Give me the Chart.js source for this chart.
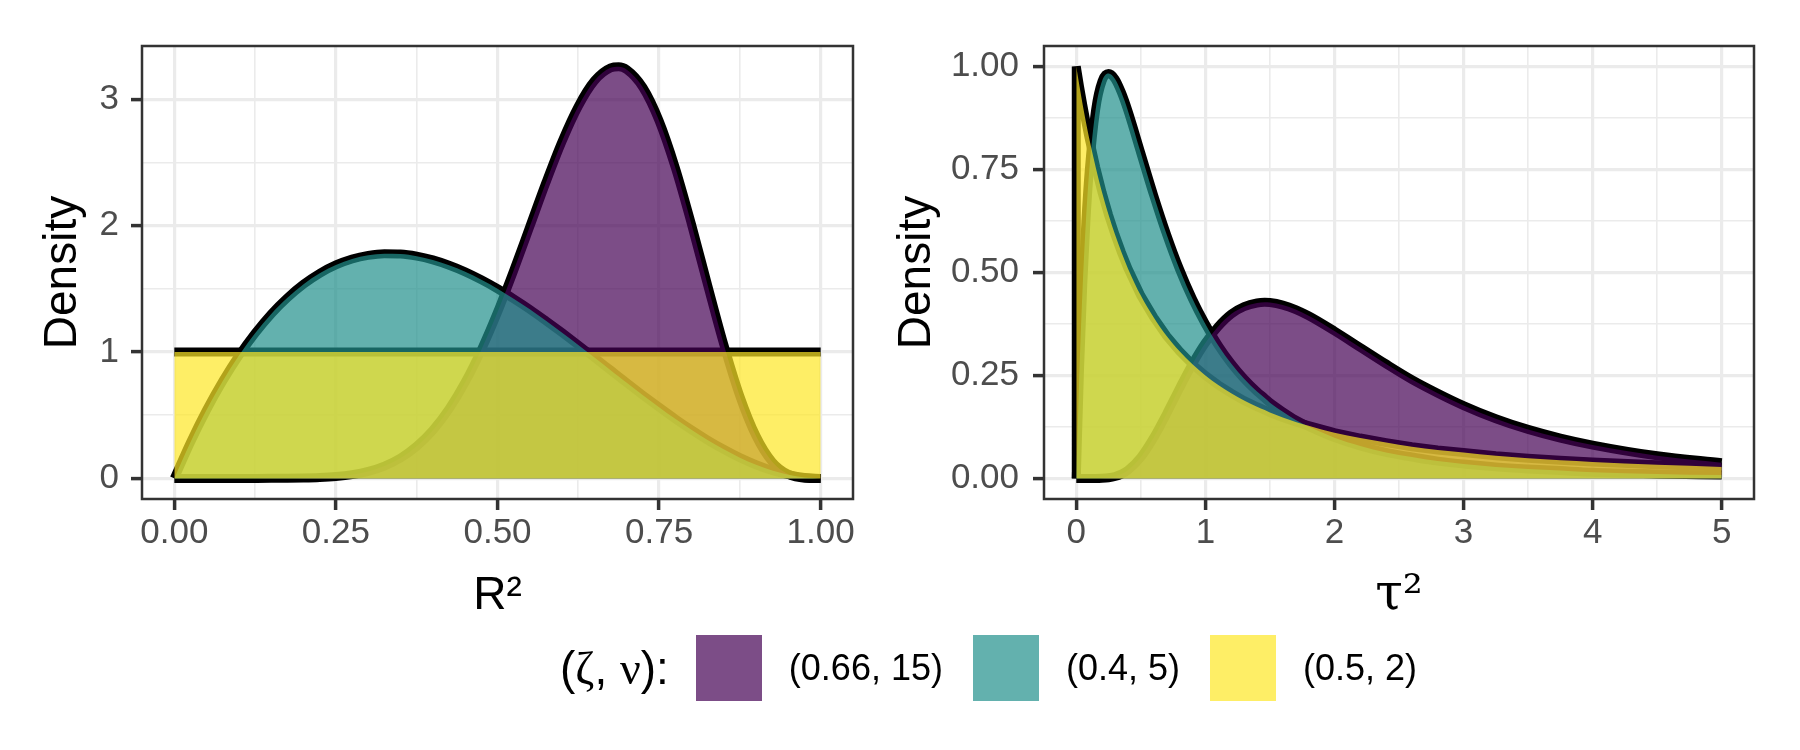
<!DOCTYPE html>
<html>
<head>
<meta charset="UTF-8">
<title>Prior densities of R2 and tau2</title>
<style>
  html, body { margin: 0; padding: 0; background: #ffffff; }
  body { width: 1800px; height: 750px; position: relative; overflow: hidden; font-family: "Liberation Sans", Arial, sans-serif; }
  #leftChart { position: absolute; left: 0; top: 0; }
  #rightChart { position: absolute; left: 880px; top: 0; }
  .legend { position: absolute; left: 560px; top: 635px; height: 66px; display: flex; align-items: center; white-space: nowrap; color: #000; }
  .legend .ttl { font-size: 46px; }
  .legend .greek { font-family: "Liberation Serif", "DejaVu Serif", serif; }
  .legend .box { width: 66px; height: 66px; margin-left: 30px; }
  .legend .box.first { margin-left: 27px; }
  .legend .lab { font-size: 36px; margin-left: 27px; }
</style>
</head>
<body>
<canvas id="leftChart" width="880" height="640"></canvas>
<canvas id="rightChart" width="920" height="640"></canvas>
<div class="legend" id="legend"></div>

<script src="https://cdn.jsdelivr.net/npm/chart.js@4.4.1/dist/chart.umd.min.js"></script>
<script>
// ---- data ----
var seriesNames = ['(0.66, 15)', '(0.4, 5)', '(0.5, 2)'];

// left panel: density of R2
var r2Grid = [0, 0.025, 0.05, 0.075, 0.1, 0.125, 0.15, 0.175, 0.2, 0.225, 0.25, 0.275, 0.3, 0.325, 0.35, 0.375,
  0.4, 0.425, 0.45, 0.475, 0.5, 0.525, 0.55, 0.575, 0.6, 0.625, 0.65, 0.675, 0.6875, 0.7, 0.725, 0.75, 0.775,
  0.8, 0.825, 0.85, 0.875, 0.9, 0.925, 0.95, 0.975, 1];
var r2Purple = [0, 0, 0, 0, 0, 0, 0.0003, 0.0009, 0.0026, 0.0065, 0.0145, 0.0295, 0.0554, 0.0973, 0.161, 0.254,
  0.381, 0.549, 0.761, 1.017, 1.314, 1.644, 1.992, 2.341, 2.667, 2.943, 3.145, 3.247, 3.256, 3.233, 3.092, 2.829, 2.459,
  2.012, 1.531, 1.061, 0.650, 0.335, 0.131, 0.032, 0.002, 0];
var r2Teal = [0, 0.285, 0.542, 0.770, 0.972, 1.148, 1.301, 1.429, 1.536, 1.622, 1.688, 1.735, 1.764, 1.777, 1.775, 1.758,
  1.728, 1.686, 1.634, 1.571, 1.5, 1.421, 1.337, 1.246, 1.152, 1.055, 0.956, 0.856, 0.806, 0.756, 0.658, 0.563, 0.471,
  0.384, 0.303, 0.230, 0.164, 0.108, 0.062, 0.029, 0.007, 0];
var r2Yellow = [1, 1, 1, 1, 1, 1, 1, 1, 1, 1, 1, 1, 1, 1, 1, 1,
  1, 1, 1, 1, 1, 1, 1, 1, 1, 1, 1, 1, 1, 1, 1, 1, 1,
  1, 1, 1, 1, 1, 1, 1, 1, 1];

// right panel: density of tau2
var tauGrid = [0, 0.025, 0.05, 0.075, 0.1, 0.15, 0.2, 0.25, 0.3, 0.35, 0.4, 0.5, 0.6, 0.7, 0.8, 0.9,
  1.0, 1.1, 1.2, 1.3, 1.4, 1.46, 1.5, 1.6, 1.7, 1.8, 2.0, 2.2, 2.4, 2.6, 2.8, 3.0, 3.25, 3.5, 3.75, 4.0, 4.5, 5.0];
var tauPurple = [0, 0, 0, 0, 0, 0, 0.0004, 0.0017, 0.0047, 0.0105, 0.0199, 0.0515, 0.0991, 0.157, 0.219, 0.278,
  0.329, 0.369, 0.399, 0.417, 0.426, 0.4275, 0.427, 0.421, 0.410, 0.395, 0.358, 0.318, 0.278, 0.240, 0.207, 0.177, 0.145,
  0.119, 0.098, 0.081, 0.055, 0.038];
var tauTeal = [0, 0.265, 0.470, 0.627, 0.745, 0.895, 0.965, 0.983, 0.970, 0.937, 0.893, 0.790, 0.687, 0.592, 0.508, 0.436,
  0.375, 0.323, 0.279, 0.242, 0.211, 0.195, 0.184, 0.162, 0.142, 0.126, 0.099, 0.079, 0.063, 0.052, 0.042, 0.035, 0.028,
  0.023, 0.019, 0.015, 0.011, 0.008];
var tauYellow = [1, 0.952, 0.907, 0.865, 0.826, 0.756, 0.694, 0.640, 0.592, 0.549, 0.510, 0.444, 0.391, 0.346, 0.309, 0.277,
  0.250, 0.227, 0.207, 0.189, 0.174, 0.166, 0.160, 0.148, 0.137, 0.128, 0.111, 0.098, 0.087, 0.077, 0.069, 0.063, 0.055,
  0.049, 0.044, 0.040, 0.033, 0.028];
// the black outline of (0.5, 2) on the tau2 side rises from this value at tau2 = 0
var tauYellowOutlineFrom = 0;

// ticks and labels
var r2Major = [0, 0.25, 0.5, 0.75, 1];
var r2Labels = ['0.00', '0.25', '0.50', '0.75', '1.00'];
var r2Minor = [0.125, 0.375, 0.625, 0.875];
var densLeftMajor = [0, 1, 2, 3];
var densLeftLabels = ['0', '1', '2', '3'];
var densLeftMinor = [0.5, 1.5, 2.5];
var tauMajor = [0, 1, 2, 3, 4, 5];
var tauLabels = ['0', '1', '2', '3', '4', '5'];
var tauMinor = [0.5, 1.5, 2.5, 3.5, 4.5];
var densRightMajor = [0, 0.25, 0.5, 0.75, 1];
var densRightLabels = ['0.00', '0.25', '0.50', '0.75', '1.00'];
var densRightMinor = [0.125, 0.375, 0.625, 0.875];

// ---- styles ----
var fillColors = ['rgba(68, 1, 84, 0.7)', 'rgba(33, 144, 140, 0.7)', 'rgba(253, 231, 37, 0.7)'];
var FONT = '"Liberation Sans", Arial, sans-serif';
Chart.defaults.font.family = FONT;

function points(grid, ys) {
  return grid.map(function (x, i) { return { x: x, y: ys[i] }; });
}

function mergeTicks(major, minor) {
  var t = major.map(function (v) { return { value: v, major: true }; })
    .concat(minor.map(function (v) { return { value: v, major: false }; }));
  t.sort(function (a, b) { return a.value - b.value; });
  return t;
}

function makeAxis(range, major, labels, minor, fit, title) {
  return {
    type: 'linear',
    min: range[0],
    max: range[1],
    afterBuildTicks: function (scale) { scale.ticks = mergeTicks(major, minor); },
    afterFit: fit,
    border: { display: false },
    grid: {
      color: '#ebebeb',
      lineWidth: function (c) { return c.tick && c.tick.major ? 3.2 : 1.6; },
      tickColor: function (c) { return c.tick && c.tick.major ? '#333333' : 'rgba(0,0,0,0)'; },
      tickLength: 11,
      tickWidth: 3.5
    },
    ticks: {
      autoSkip: false,
      maxRotation: 0,
      color: '#4d4d4d',
      font: { size: 35 },
      padding: title.tickPad,
      callback: function (value) {
        var i = major.indexOf(value);
        return i < 0 ? '' : labels[i];
      }
    },
    title: {
      display: true,
      text: title.text,
      color: '#000000',
      font: { size: title.size || 46, family: title.family || FONT },
      padding: title.padding
    }
  };
}

var panelBorder = {
  id: 'panelBorder',
  afterDatasetsDraw: function (chart) {
    var a = chart.chartArea, ctx = chart.ctx;
    ctx.save();
    ctx.strokeStyle = '#333333';
    ctx.lineWidth = 2.5;
    ctx.strokeRect(a.left, a.top, a.right - a.left, a.bottom - a.top);
    ctx.restore();
  }
};

function buildDatasets(grid, series, outlineFrom) {
  var sets = [];
  // thick black outlines underneath everything
  series.forEach(function (ys, i) {
    var data = points(grid, ys);
    var straight = false;
    if (outlineFrom && outlineFrom[i] !== null) {
      data = [{ x: grid[0], y: outlineFrom[i] }].concat(data);
      straight = true;
    }
    sets.push({
      label: seriesNames[i] + ' outline',
      data: data,
      borderColor: '#000000',
      borderWidth: 9,
      pointRadius: 0,
      fill: false,
      tension: 0,
      cubicInterpolationMode: straight ? 'default' : 'monotone',
      order: 10 + i
    });
  });
  // translucent areas, yellow drawn last
  series.forEach(function (ys, i) {
    sets.push({
      label: seriesNames[i],
      data: points(grid, ys),
      backgroundColor: fillColors[i],
      borderColor: 'rgba(0,0,0,0)',
      borderWidth: 0,
      pointRadius: 0,
      fill: 'origin',
      cubicInterpolationMode: 'monotone',
      order: 3 - i
    });
  });
  return sets;
}

function makeChart(id, datasets, xAxis, yAxis, padRight) {
  return new Chart(document.getElementById(id), {
    type: 'line',
    data: { datasets: datasets },
    plugins: [panelBorder],
    options: {
      responsive: false,
      animation: false,
      events: [],
      layout: { padding: { top: 46, right: padRight, bottom: 0, left: 0 } },
      plugins: { legend: { display: false }, tooltip: { enabled: false } },
      scales: { x: xAxis, y: yAxis }
    }
  });
}

makeChart('leftChart',
  buildDatasets(r2Grid, [r2Purple, r2Teal, r2Yellow], null),
  makeAxis([-0.05, 1.05], r2Major, r2Labels, r2Minor,
    function (s) { s.height = 141; },
    { text: 'R\u00b2', tickPad: 2, padding: { top: 0, bottom: 16 } }),
  makeAxis([-0.163, 3.42], densLeftMajor, densLeftLabels, densLeftMinor,
    function (s) { s.width = 142; },
    { text: 'Density', tickPad: 12, padding: { top: 36, bottom: 0 } }),
  27);

makeChart('rightChart',
  buildDatasets(tauGrid, [tauPurple, tauTeal, tauYellow], [null, null, tauYellowOutlineFrom]),
  makeAxis([-0.25, 5.25], tauMajor, tauLabels, tauMinor,
    function (s) { s.height = 141; },
    { text: '\u03c4\u00b2', size: 50, family: '"DejaVu Serif", "Liberation Serif", serif', tickPad: 2, padding: { top: 0, bottom: 14 } }),
  makeAxis([-0.05, 1.05], densRightMajor, densRightLabels, densRightMinor,
    function (s) { s.width = 164; },
    { text: 'Density', tickPad: 14, padding: { top: 10, bottom: 0 } }),
  46);

// ---- legend ----
var legend = document.getElementById('legend');
var ttl = document.createElement('span');
ttl.className = 'ttl';
ttl.innerHTML = '(<span class="greek">\u03b6</span>, <span class="greek">\u03bd</span>):';
legend.appendChild(ttl);
seriesNames.forEach(function (name, i) {
  var box = document.createElement('span');
  box.className = 'box' + (i === 0 ? ' first' : '');
  box.style.background = fillColors[i];
  legend.appendChild(box);
  var lab = document.createElement('span');
  lab.className = 'lab';
  lab.textContent = name;
  legend.appendChild(lab);
});
</script>
</body>
</html>
